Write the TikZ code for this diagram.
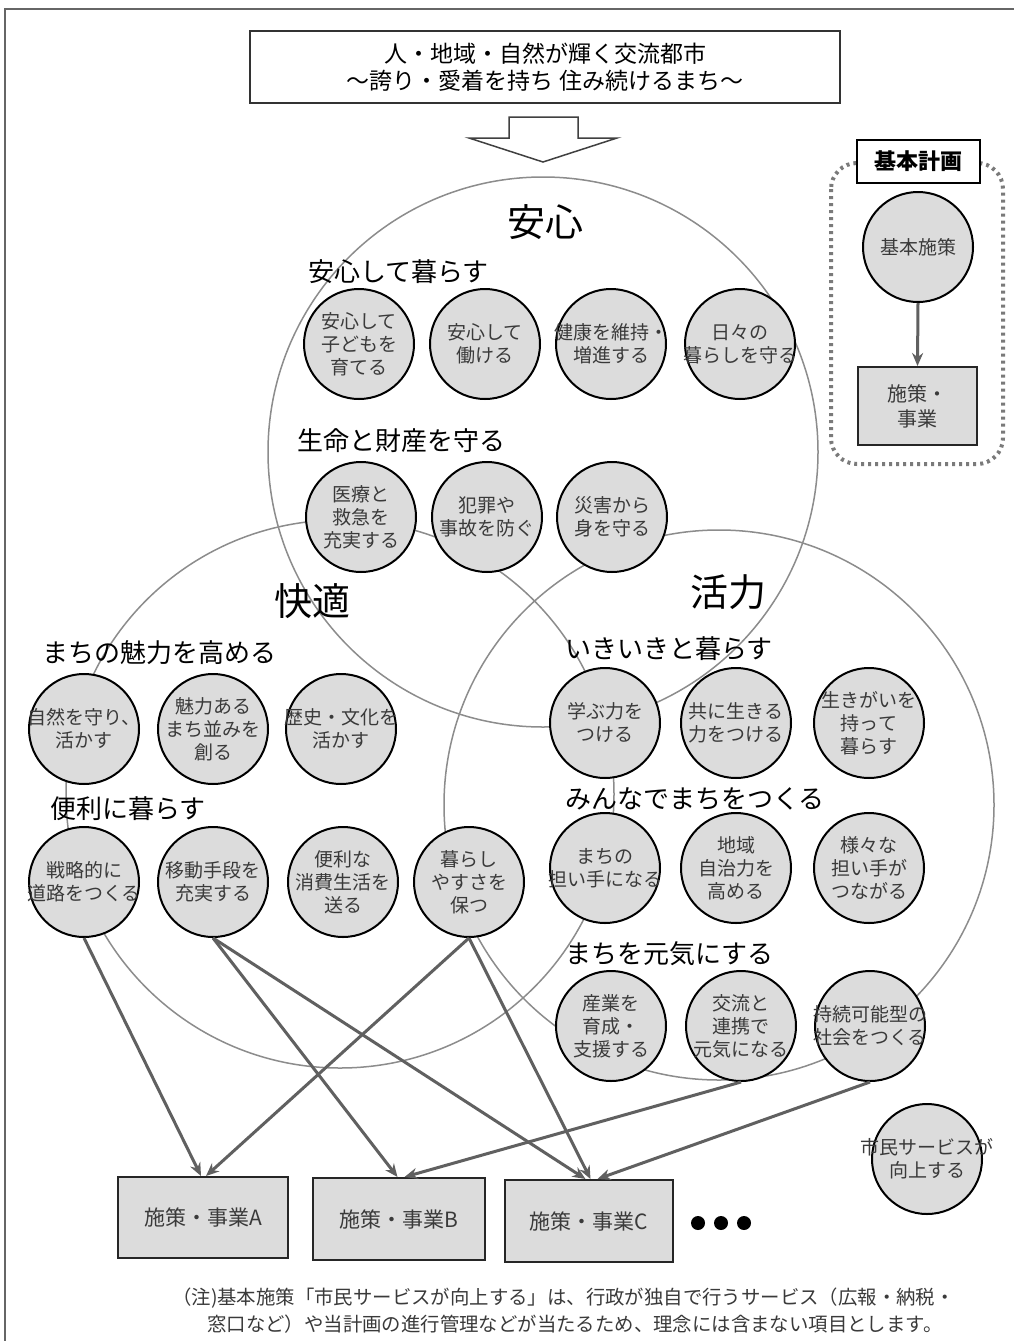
\documentclass[tikz,border=0pt]{standalone}
\usepackage{fontspec}
\setmainfont{Noto Sans CJK JP}
\usetikzlibrary{arrows.meta}
\definecolor{cfill}{HTML}{DCDCDC}
\definecolor{ctext}{HTML}{3A3A3A}
\definecolor{bigline}{HTML}{8C8C8C}
\definecolor{arrowc}{HTML}{606060}
\definecolor{dotc}{HTML}{7A7A7A}
\begin{document}
\begin{tikzpicture}[x=1pt,y=-1pt,
  sc/.style={circle,draw=black,line width=2pt,fill=cfill,minimum size=110pt,inner sep=0pt},
  sct/.style={align=center,text=ctext,font=\fontsize{19}{23}\selectfont,inner sep=0pt},
  head/.style={anchor=west,inner sep=0pt,font=\fontsize{26}{30}\selectfont},
  biglbl/.style={inner sep=0pt,font=\fontsize{38}{42}\selectfont},
  bigc/.style={draw=bigline,line width=1.5pt},
  sbox/.style={rectangle,draw=black!85,line width=2pt,fill=cfill,inner sep=0pt,text=ctext,align=center},
  arr/.style={draw=arrowc,line width=3pt,-{Stealth[length=13pt,width=11pt]}},
  bdot/.style={circle,fill=black,inner sep=0pt,minimum size=14pt},
]
\useasboundingbox (0,0) rectangle (1014,1341);
\fill[white] (0,0) rectangle (1014,1341);
% frame (top and left)
\draw[black!60,line width=2pt] (1014,9) -- (5,9) -- (5,1341);

% title box
\node[draw=black!80,line width=1.8pt,minimum width=590pt,minimum height=72pt,align=center,
      font=\fontsize{23}{27}\selectfont,inner sep=0pt] (title) at (545,67)
      {人・地域・自然が輝く交流都市\\～誇り・愛着を持ち 住み続けるまち～};
% hollow arrow
\draw[black!75,line width=1.5pt,fill=white] (509,117) -- (578,117) -- (578,138) -- (617,138)
   -- (543,162) -- (469,138) -- (509,138) -- cycle;

% big circles
\draw[bigc] (543,452) circle[radius=275pt];
\draw[bigc] (340,794) circle[radius=274pt];
\draw[bigc] (719,805) circle[radius=275pt];

% big labels
\node[biglbl] (lanshin) at (545,222) {安心};
\node[biglbl] (lkaiteki) at (312,601) {快適};
\node[biglbl] (lkatsu) at (728,592) {活力};

% headings
\node[head] (h1) at (308,272) {安心して暮らす};
\node[head] (h2) at (297,441) {生命と財産を守る};
\node[head] (h3) at (42,653) {まちの魅力を高める};
\node[head] (h4) at (50,809) {便利に暮らす};
\node[head] (h5) at (565,649) {いきいきと暮らす};
\node[head] (h6) at (565,799) {みんなでまちをつくる};
\node[head] (h7) at (565,954) {まちを元気にする};

% small circles
\node[sc,label={[sct]center:安心して\\子どもを\\育てる}] (a1) at (359,344) {};
\node[sc,label={[sct]center:安心して\\働ける}] (a2) at (485,344) {};
\node[sc,label={[sct]center:健康を維持・\\増進する}] (a3) at (611,344) {};
\node[sc,label={[sct]center:日々の\\暮らしを守る}] (a4) at (740,344) {};

\node[sc,label={[sct]center:医療と\\救急を\\充実する}] (b1) at (361,517) {};
\node[sc,label={[sct]center:犯罪や\\事故を防ぐ}] (b2) at (487,517) {};
\node[sc,label={[sct]center:災害から\\身を守る}] (b3) at (612,517) {};

\node[sc,label={[sct]center:自然を守り、\\活かす}] (c1) at (84,729) {};
\node[sc,label={[sct]center:魅力ある\\まち並みを\\創る}] (c2) at (213,729) {};
\node[sc,label={[sct]center:歴史・文化を\\活かす}] (c3) at (341,729) {};

\node[sc,label={[sct]center:戦略的に\\道路をつくる}] (d1) at (84,882) {};
\node[sc,label={[sct]center:移動手段を\\充実する}] (d2) at (213,882) {};
\node[sc,label={[sct]center:便利な\\消費生活を\\送る}] (d3) at (343,882) {};
\node[sc,label={[sct]center:暮らし\\やすさを\\保つ}] (d4) at (469,882) {};

\node[sc,label={[sct]center:学ぶ力を\\つける}] (e1) at (605,723) {};
\node[sc,label={[sct]center:共に生きる\\力をつける}] (e2) at (736,723) {};
\node[sc,label={[sct]center:生きがいを\\持って\\暮らす}] (e3) at (869,723) {};

\node[sc,label={[sct]center:まちの\\担い手になる}] (f1) at (605,868) {};
\node[sc,label={[sct]center:地域\\自治力を\\高める}] (f2) at (736,868) {};
\node[sc,label={[sct]center:様々な\\担い手が\\つながる}] (f3) at (869,868) {};

\node[sc,label={[sct]center:産業を\\育成・\\支援する}] (g1) at (611,1026) {};
\node[sc,label={[sct]center:交流と\\連携で\\元気になる}] (g2) at (741,1026) {};
\node[sc,label={[sct]center:持続可能型の\\社会をつくる}] (g3) at (870,1026) {};

\node[sc,label={[sct]center:市民サービスが\\向上する}] (sv) at (927,1159) {};

% bottom boxes
\node[sbox,minimum width=170pt,minimum height=81pt,font=\fontsize{21}{25}\selectfont] (A) at (203,1217.5) {施策・事業A};
\node[sbox,minimum width=172pt,minimum height=82pt,font=\fontsize{21}{25}\selectfont] (B) at (398.5,1219) {施策・事業B};
\node[sbox,minimum width=168pt,minimum height=82pt,font=\fontsize{21}{25}\selectfont] (C) at (588.5,1221) {施策・事業C};
\node[bdot] (dot1) at (698,1223) {};
\node[bdot] (dot2) at (721,1223) {};
\node[bdot] (dot3) at (744,1223) {};

% arrows to boxes
\draw[arr] (d1.south) -- ([xshift=-2pt]A.north);
\draw[arr] (d4.south) -- ([xshift=3pt]A.north);
\draw[arr] (d2.south) -- ([xshift=-1pt]B.north);
\draw[arr] (g2.south) -- ([xshift=6pt]B.north);
\draw[arr] (d2.south) -- ([xshift=-3pt]C.north);
\draw[arr] (d4.south) -- ([xshift=2pt]C.north);
\draw[arr] (g3.south) -- ([xshift=9pt]C.north);

% note
\node[inner sep=0pt,anchor=west,text=ctext,font=\fontsize{19.4}{23}\selectfont] (note1) at (172,1298)
  {（注)基本施策「市民サービスが向上する」は、行政が独自で行うサービス（広報・納税・};
\node[inner sep=0pt,anchor=west,text=ctext,font=\fontsize{19.4}{23}\selectfont] (note2) at (207,1324)
  {窓口など）や当計画の進行管理などが当たるため、理念には含まない項目とします。};

% legend panel
\draw[dotc,line width=4pt,dash pattern=on 3pt off 4pt,rounded corners=26pt] (831,163) rectangle (1003,464);
\node[draw=black,line width=2.5pt,fill=white,minimum width=123pt,minimum height=43pt,inner sep=0pt,
      font=\bfseries\fontsize{22}{26}\selectfont] (kk) at (918.5,161.5) {基本計画};
\node[sc,label={[sct]center:基本施策}] (ks) at (918,247) {};
\node[sbox,minimum width=119pt,minimum height=78pt,font=\fontsize{20}{25}\selectfont] (kj) at (917.5,406) {施策・\\事業};
\draw[arr] (ks.south) -- (kj.north);
\end{tikzpicture}
\end{document}
